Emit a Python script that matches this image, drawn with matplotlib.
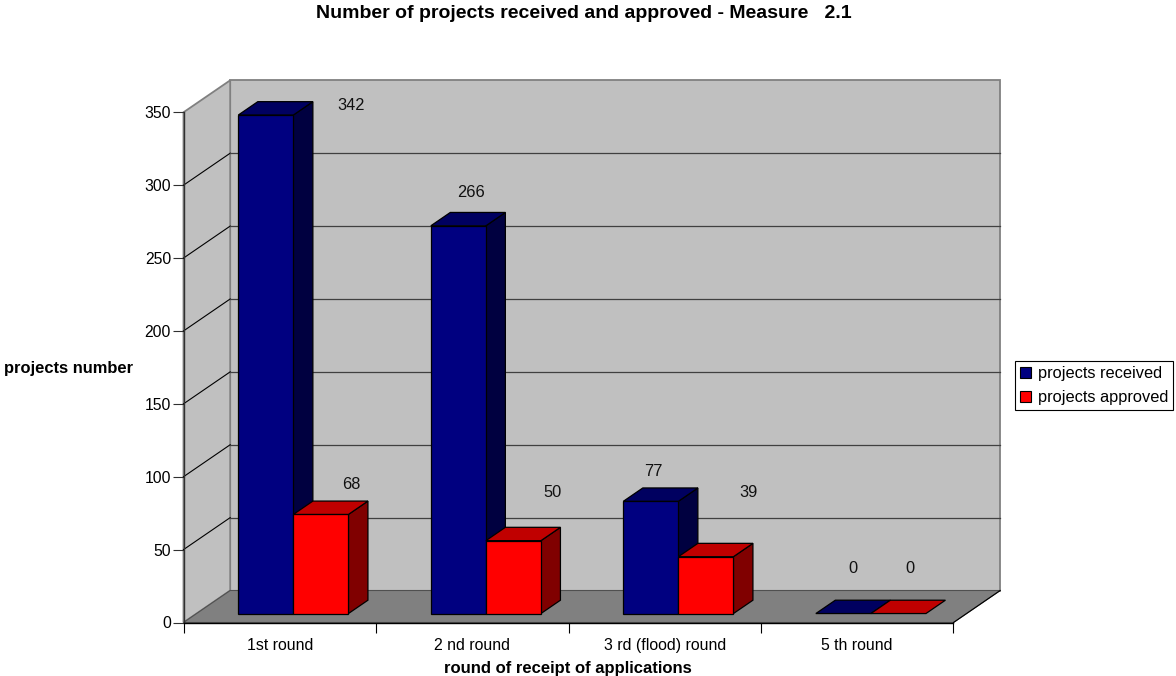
import matplotlib
matplotlib.use("Agg")
import matplotlib.pyplot as plt
from matplotlib.patches import Polygon, Patch

plt.rcParams['font.family'] = ['Liberation Sans', 'DejaVu Sans']

# Chart data
rounds = ["1st round", "2 nd round", "3 rd (flood) round", "5 th round"]
received = [342, 266, 77, 0]
approved = [68, 50, 39, 0]
series_names = ["projects received", "projects approved"]
y_ticks = [0, 50, 100, 150, 200, 250, 300, 350]

# Label offsets from each bar's top front-left corner, in pixels
received_label_offsets = [(113, 10), (40, 33), (30, 30), (37, 45)]
approved_label_offsets = [(58, 30), (67, 48), (70, 64), (39, 45)]

W, H = 1176, 676
LEFT, RIGHT, BOTTOM, TOP = 183.5, 953.5, 622.5, 112.3

fig = plt.figure(figsize=(W / 100, H / 100), dpi=100, facecolor="white")
ax = fig.add_axes([LEFT / W, 1 - BOTTOM / H, (RIGHT - LEFT) / W, (BOTTOM - TOP) / H])
ax.set_xlim(0, len(rounds))
ax.set_ylim(0, 350)
ax.set_facecolor("none")

# Oblique projection: how far one full unit of depth moves a point, in data units
px_x = (RIGHT - LEFT) / len(rounds)
px_y = (BOTTOM - TOP) / 350
DX = 46.7 / px_x
DY = 32.0 / px_y


def proj(x, y, d):
    return (x + d * DX, y + d * DY)


def poly(points, face, edge, lw=0.8, z=1):
    ax.add_patch(Polygon(points, closed=True, facecolor=face, edgecolor=edge,
                         linewidth=lw, zorder=z, clip_on=False, joinstyle="miter"))


n = len(rounds)
top = y_ticks[-1]

# Walls and floor
poly([proj(0, 0, 1), proj(n, 0, 1), proj(n, top, 1), proj(0, top, 1)], "#c0c0c0", "#808080", 1.3, 1)
poly([proj(0, 0, 0), proj(0, 0, 1), proj(0, top, 1), proj(0, top, 0)], "#c0c0c0", "#808080", 1.3, 1)
poly([proj(0, 0, 0), proj(n, 0, 0), proj(n, 0, 1), proj(0, 0, 1)], "#808080", "#505050", 0.8, 1)

# Gridlines run across the side wall and the back wall
for v in y_ticks[1:-1]:
    xs, ys = zip(proj(0, v, 0), proj(0, v, 1))
    ax.plot(xs, ys, color="black", lw=0.8, zorder=2, clip_on=False)
    xs, ys = zip(proj(0, v, 1), proj(n, v, 1))
    ax.plot(xs, ys, color="#404040", lw=0.9, zorder=2, clip_on=False)

# Floor's front-right diagonal
xs, ys = zip(proj(n, 0, 0), proj(n, 0, 1))
ax.plot(xs, ys, color="black", lw=0.8, zorder=2, clip_on=False)

BAR_X0 = 0.217
BAR_W = 0.286
NEAR, FAR = 0.28, 0.697


def bar3d(x, v, front, upper, side, z):
    a, b = x, x + BAR_W
    if v > 0:
        poly([proj(b, 0, NEAR), proj(b, 0, FAR), proj(b, v, FAR), proj(b, v, NEAR)], side, "black", 0.9, z)
        poly([proj(a, 0, NEAR), proj(b, 0, NEAR), proj(b, v, NEAR), proj(a, v, NEAR)], front, "black", 0.9, z)
    poly([proj(a, v, NEAR), proj(b, v, NEAR), proj(b, v, FAR), proj(a, v, FAR)], upper, "black", 0.9, z)


for i in range(n):
    x = i + BAR_X0
    bar3d(x, received[i], "#000080", "#000060", "#000040", 3 + i * 0.1)
    bar3d(x + BAR_W, approved[i], "#ff0000", "#c00000", "#800000", 3.05 + i * 0.1)

    for value, xpos, (ox, oy) in ((received[i], x, received_label_offsets[i]),
                                  (approved[i], x + BAR_W, approved_label_offsets[i])):
        px, py = proj(xpos, value, NEAR)
        ax.annotate(str(value), xy=(px, py), xytext=(ox * 0.72, oy * 0.72),
                    textcoords="offset points", ha="center", va="center",
                    fontsize=11.8, color="#111111", zorder=6, annotation_clip=False)

# Axes and ticks
for s in ("top", "right"):
    ax.spines[s].set_visible(False)
ax.spines["left"].set_linewidth(1.0)
ax.spines["left"].set_color("#303030")
ax.spines["bottom"].set_linewidth(1.0)
ax.spines["bottom"].set_color("black")
ax.spines["left"].set_zorder(5)
ax.spines["bottom"].set_zorder(5)

ax.set_yticks(y_ticks)
ax.tick_params(axis="y", length=8, width=0.8, pad=1, labelsize=11.3, color="#303030")
ax.set_xticks(range(n + 1))
ax.set_xticklabels([])
ax.set_xticks([i + 0.5 for i in range(n)], minor=True)
ax.set_xticklabels(rounds, minor=True, fontsize=11.4)
ax.tick_params(axis="x", which="major", length=7, width=0.8)
ax.tick_params(axis="x", which="minor", length=0, pad=11)

# Titles
fig.text(584 / W, 1 - 13 / H, "Number of projects received and approved - Measure   2.1",
         ha="center", va="center", fontsize=14, fontweight="bold")
fig.text(68.5 / W, 1 - 368 / H, "projects number", ha="center", va="center",
         fontsize=11.9, fontweight="bold")
fig.text(568 / W, 1 - 668 / H, "round of receipt of applications", ha="center", va="center",
         fontsize=12, fontweight="bold")

# Legend
handles = [Patch(facecolor="#000080", edgecolor="black", linewidth=0.8, label=series_names[0]),
           Patch(facecolor="#ff0000", edgecolor="black", linewidth=0.8, label=series_names[1])]
leg = fig.legend(handles=handles, loc="upper left", bbox_to_anchor=(1015 / W, 1 - 361 / H),
                 frameon=True, fancybox=False, framealpha=1, edgecolor="black",
                 fontsize=11.8, handlelength=0.67, handleheight=0.67, handletextpad=0.42,
                 borderaxespad=0, borderpad=0.3, labelspacing=0.55)
leg.get_frame().set_linewidth(0.8)

fig.savefig("out.png", dpi=100, facecolor="white")
